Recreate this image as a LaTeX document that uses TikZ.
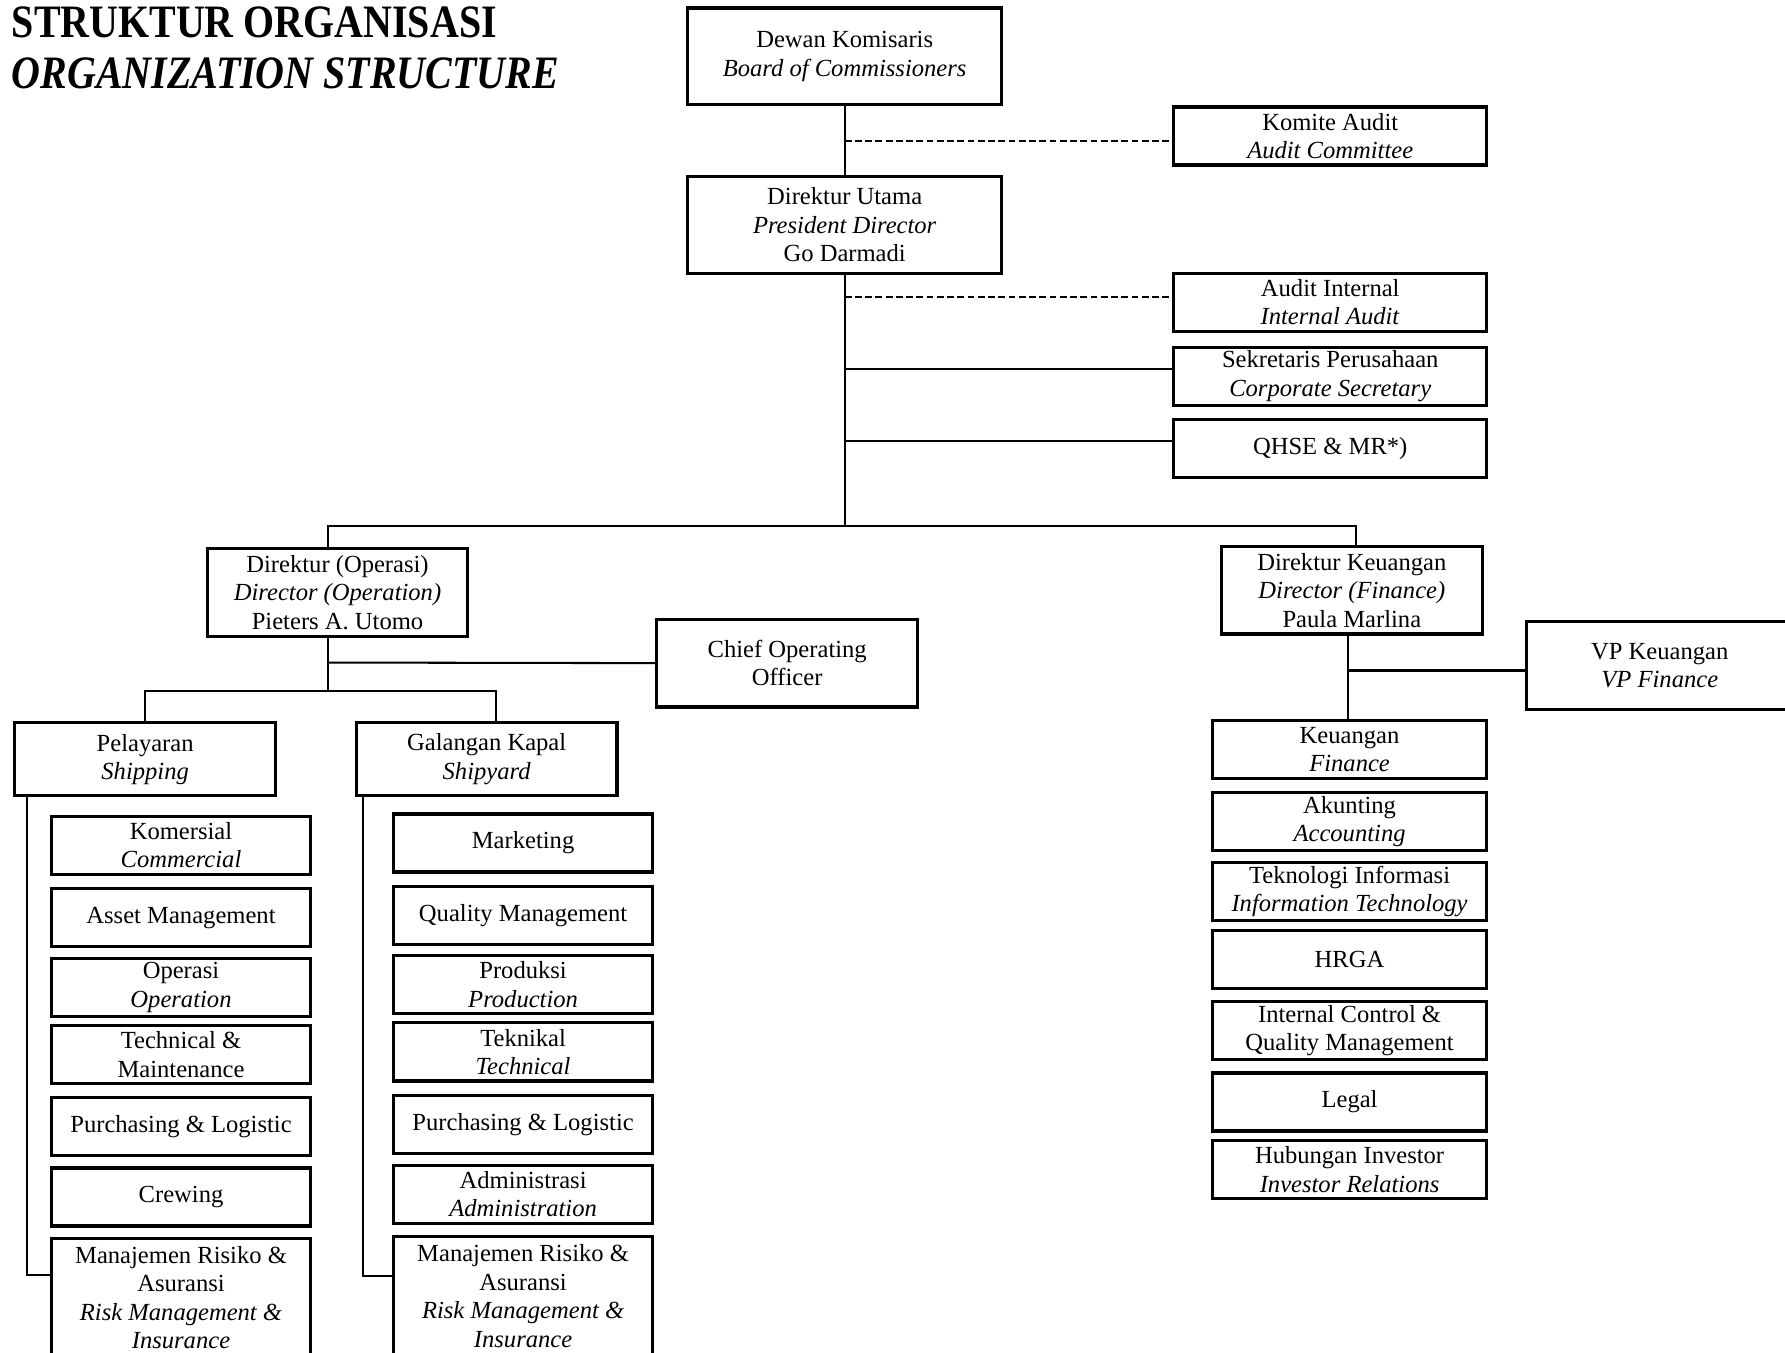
\documentclass[tikz,border=0pt]{standalone}
\usepackage{fontspec}
\setmainfont{Liberation Serif}
\newfontfamily\titlefont[FakeStretch=0.86]{Liberation Serif}
\begin{document}
\begin{tikzpicture}[x=0.5pt,y=-0.5pt]
\tikzstyle{box_style} = [draw=black, line width=1.4pt, rectangle, align=center, inner sep=1pt, font=\fontsize{10.8}{12.5}\selectfont]
\tikzstyle{top_box} = [box_style, minimum width=138pt, minimum height=42.5pt]
\tikzstyle{side_box} = [box_style, minimum width=137.5pt, minimum height=25.5pt]
\tikzstyle{dir_box} = [box_style, minimum width=114.5pt, minimum height=38.5pt]
\tikzstyle{div_box} = [box_style, minimum width=114.5pt, minimum height=32pt]
\tikzstyle{unit_box} = [box_style, minimum width=114pt, minimum height=25.5pt]
\tikzstyle{fin_box} = [box_style, minimum width=120.5pt, minimum height=25.5pt]
\tikzstyle{risk_box} = [box_style, minimum width=114pt, minimum height=52pt]
\tikzstyle{title_style} = [anchor=west, inner sep=0pt, font=\titlefont\bfseries\fontsize{20.4}{24}\selectfont]
\tikzstyle{edge_style} = [black, line width=0.9pt]
\tikzstyle{dash_style} = [black, line width=0.7pt, dash pattern=on 3pt off 1.5pt]
    \useasboundingbox (0,0) rectangle (1568,1188);

    \node[title_style] (t1) at (10,20) {STRUKTUR ORGANISASI};
    \node[title_style] (t2) at (10,64) {\itshape ORGANIZATION STRUCTURE};

    % board and president
    \node[top_box] (dk) at (742,49.5) {Dewan Komisaris\\\textit{Board of Commissioners}};
    \node[top_box] (du) at (742,197.5) {Direktur Utama\\\textit{President Director}\\Go Darmadi};
    \node[side_box] (ka) at (1168.5,119.5) {Komite Audit\\\textit{Audit Committee}};
    \node[side_box] (ai) at (1168.5,265.5) {Audit Internal\\\textit{Internal Audit}};
    \node[side_box] (sp) at (1168.5,330.5) {Sekretaris Perusahaan\\\textit{Corporate Secretary}};
    \node[side_box] (qhse) at (1168.5,394) {QHSE \& MR*)};

    \coordinate (ka_tap) at (742,124);
    \coordinate (ai_tap) at (742,261);
    \coordinate (sp_tap) at (742,324);
    \coordinate (qh_tap) at (742,387);
    \coordinate (bus) at (742,462);

    \draw[edge_style] (dk) edge (du);
    \draw[edge_style] (du) -- (bus);
    \draw[dash_style] (ka_tap) -- (ka_tap -| ka.west);
    \draw[dash_style] (ai_tap) -- (ai_tap -| ai.west);
    \draw[edge_style] (sp_tap) -- (sp_tap -| sp.west);
    \draw[edge_style] (qh_tap) -- (qh_tap -| qhse.west);

    % directors
    \node[dir_box] (dop) at (296.5,520.5) {Direktur (Operasi)\\\textit{Director (Operation)}\\Pieters A. Utomo};
    \node[dir_box] (dfin) at (1187.5,518.5) {Direktur Keuangan\\\textit{Director (Finance)}\\Paula Marlina};
    \node[dir_box] (coo) at (691.5,582.5) {Chief Operating\\Officer};
    \node[dir_box, minimum width=117pt] (vp) at (1458,584.5) {VP Keuangan\\\textit{VP Finance}};

    \draw[edge_style] ([xshift=-4.25pt]dop.north) |- (bus) -| ([xshift=1.75pt]dfin.north);

    % operation
    \node[div_box] (shp) at (127.5,667) {Pelayaran\\\textit{Shipping}};
    \node[div_box] (yard) at (427.5,667) {Galangan Kapal\\\textit{Shipyard}};

    \coordinate (coo_tap) at (288,582);
    \coordinate (op_br) at (288,607);

    \draw[edge_style] ([xshift=-4.25pt]dop.south) -- (op_br);
    \draw[edge_style] (coo_tap) -- (coo.west);
    \draw[edge_style] (shp.north) |- (op_br) -| ([xshift=4.25pt]yard.north);

    \node[unit_box] (s1) at (159,742.5) {Komersial\\\textit{Commercial}};
    \node[unit_box] (s2) at (159,806) {Asset Management};
    \node[unit_box] (s3) at (159,867.5) {Operasi\\\textit{Operation}};
    \node[unit_box] (s4) at (159,926.5) {Technical \&\\Maintenance};
    \node[unit_box] (s5) at (159,989.5) {Purchasing \& Logistic};
    \node[unit_box] (s6) at (159,1051.5) {Crewing};
    \node[risk_box] (s7) at (159,1140) {Manajemen Risiko \&\\Asuransi\\\textit{Risk Management \&}\\\textit{Insurance}};

    \node[unit_box] (y1) at (459.5,740.5) {Marketing};
    \node[unit_box] (y2) at (459.5,804.5) {Quality Management};
    \node[unit_box] (y3) at (459.5,865) {Produksi\\\textit{Production}};
    \node[unit_box] (y4) at (459.5,924) {Teknikal\\\textit{Technical}};
    \node[unit_box] (y5) at (459.5,987.5) {Purchasing \& Logistic};
    \node[unit_box] (y6) at (459.5,1049) {Administrasi\\\textit{Administration}};
    \node[risk_box] (y7) at (459.5,1138.5) {Manajemen Risiko \&\\Asuransi\\\textit{Risk Management \&}\\\textit{Insurance}};

    \draw[edge_style] ([xshift=6pt]shp.south west) |- ([yshift=10pt]s7.west);
    \draw[edge_style] ([xshift=3.5pt]yard.south west) |- ([yshift=9pt]y7.west);

    % finance
    \node[fin_box] (f1) at (1185.5,658.5) {Keuangan\\\textit{Finance}};
    \node[fin_box] (f2) at (1185.5,721.5) {Akunting\\\textit{Accounting}};
    \node[fin_box] (f3) at (1185.5,783) {Teknologi Informasi\\\textit{Information Technology}};
    \node[fin_box] (f4) at (1185.5,843) {HRGA};
    \node[fin_box] (f5) at (1185.5,905.5) {Internal Control \&\\Quality Management};
    \node[fin_box] (f6) at (1185.5,968) {Legal};
    \node[fin_box] (f7) at (1185.5,1027.5) {Hubungan Investor\\\textit{Investor Relations}};

    \coordinate (vp_tap) at (1184,589);

    \draw[edge_style] ([xshift=-1.75pt]dfin.south) -- ([xshift=-0.75pt]f1.north);
    \draw[edge_style] (vp_tap) -- (vp_tap -| vp.west);
\end{tikzpicture}
\end{document}
